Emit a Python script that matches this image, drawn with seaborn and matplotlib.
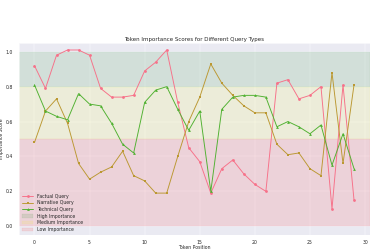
import numpy as np
import pandas as pd
import matplotlib.pyplot as plt
import matplotlib.patches as mpatches
import seaborn as sns

positions = list(range(30))
factual = [0.92, 0.79, 0.98, 1.01, 1.01, 0.98, 0.79, 0.74, 0.74, 0.75,
           0.89, 0.94, 1.01, 0.71, 0.45, 0.37, 0.19, 0.33, 0.38, 0.30,
           0.24, 0.20, 0.82, 0.84, 0.73, 0.75, 0.80, 0.10, 0.81, 0.15]
narrative = [0.48, 0.66, 0.73, 0.59, 0.36, 0.27, 0.31, 0.34, 0.43, 0.29,
             0.26, 0.19, 0.19, 0.40, 0.60, 0.74, 0.93, 0.82, 0.75, 0.69,
             0.65, 0.65, 0.47, 0.41, 0.42, 0.33, 0.29, 0.88, 0.36, 0.81]
technical = [0.81, 0.66, 0.63, 0.61, 0.76, 0.70, 0.69, 0.59, 0.47, 0.42,
             0.71, 0.78, 0.80, 0.67, 0.55, 0.66, 0.20, 0.67, 0.74, 0.75,
             0.75, 0.74, 0.57, 0.60, 0.57, 0.53, 0.58, 0.35, 0.53, 0.33]
series_names = ['Factual Query', 'Narrative Query', 'Technical Query']
COLORS = {'Factual Query': '#f77189', 'Narrative Query': '#bb9832', 'Technical Query': '#50b131'}
MARKERS = {'Factual Query': 'o', 'Narrative Query': 's', 'Technical Query': '^'}

bands = [(0.8, 1.0, 'green', 'High Importance'),
         (0.5, 0.8, 'yellow', 'Medium Importance'),
         (0.0, 0.5, 'red', 'Low Importance')]

df = pd.DataFrame({'Token Position': positions * 3,
                   'Importance Score': factual + narrative + technical,
                   'Query Type': np.repeat(series_names, len(positions))})

sns.set_theme(style='darkgrid')
fig = plt.figure(figsize=(11.1, 7.5))
ax = fig.add_axes([0.05, 0.06, 0.95, 0.768])

for lo, hi, c, name in bands:
    ax.axhspan(lo, hi, color=c, alpha=0.1)

sns.lineplot(data=df, x='Token Position', y='Importance Score', hue='Query Type',
             style='Query Type', markers=MARKERS, dashes=False, palette=COLORS,
             linewidth=2, markersize=6, markeredgewidth=0, ax=ax, legend=False)

ax.set_ylim(-0.05, 1.05)
ax.set_xticks([0, 5, 10, 15, 20, 25, 30])
ax.tick_params(axis='y', labelsize=10, pad=6)
ax.tick_params(axis='x', labelsize=10, pad=4)
ax.set_xlabel('Token Position', fontsize=10, labelpad=1)
ax.set_ylabel('Importance Score', fontsize=10, labelpad=3)
ax.set_title('Token Importance Scores for Different Query Types', fontsize=12, pad=4)

handles = [plt.Line2D([], [], color=COLORS[n], marker=MARKERS[n], lw=2, ms=6, mew=0)
           for n in series_names]
handles += [mpatches.Patch(color=c, alpha=0.1) for _, _, c, _ in bands]
labels = series_names + [b[3] for b in bands]
ax.legend(handles, labels, loc='lower left', fontsize=10, frameon=False,
          borderaxespad=0.3, handlelength=2.5, labelspacing=0.35)

fig.savefig('out.png', dpi=100 / 3)
